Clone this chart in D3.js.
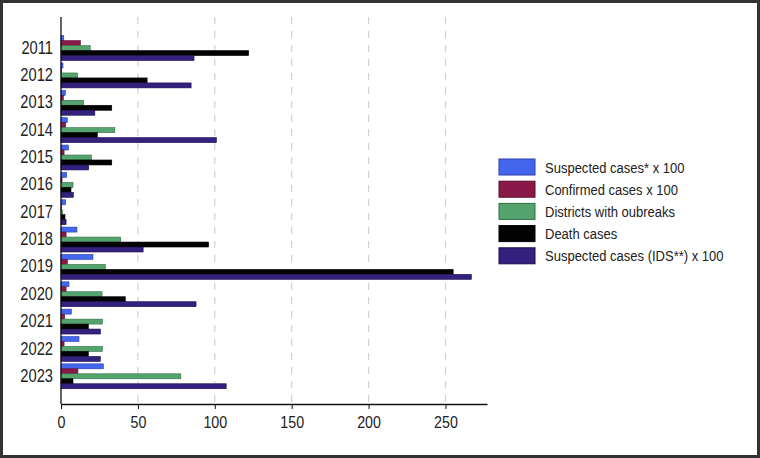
<!DOCTYPE html>
<html>
<head>
<meta charset="utf-8">
<script src="https://cdn.jsdelivr.net/npm/d3@7"></script>
<style>
  html, body { margin: 0; padding: 0; background: #fff; }
  svg { display: block; font-family: "Liberation Sans", Arial, sans-serif; }
</style>
</head>
<body>
<div id="chart"></div>
<script>
const years = ['2011', '2012', '2013', '2014', '2015', '2016', '2017', '2018', '2019', '2020', '2021', '2022', '2023'];
const seriesNames = ['Suspected cases* x 100', 'Confirmed cases x 100', 'Districts with oubreaks', 'Death cases', 'Suspected cases (IDS**) x 100'];
const suspected = [1.8, 1.3, 2.8, 4.1, 4.8, 3.7, 3.0, 10.4, 20.8, 5.2, 6.7, 11.7, 27.5];
const confirmed = [12.6, 0.3, 1.5, 3.0, 2.0, 0.7, 0.2, 3.3, 4.1, 3.3, 2.4, 2.0, 11.0];
const districts = [19, 10.8, 14.7, 35, 19.7, 7.8, 0.9, 38.8, 28.8, 26.7, 26.9, 26.9, 77.9];
const deaths = [122, 56, 33, 23.6, 33, 6.5, 2.6, 96, 255, 41.8, 17.8, 17.8, 7.8];
const suspectedIDS = [86.5, 84.6, 22, 101, 18, 8, 3.3, 53.4, 266.8, 87.8, 25.6, 25.6, 107.4];
const xTicks = [0, 50, 100, 150, 200, 250];

const colors = ['#4466ee', '#8a1848', '#55a46e', '#030303', '#34207e'];
const strokes = ['#2a3fa8', '#5a0c2e', '#2f6e44', '#000000', '#1a0c4a'];

const width = 760, height = 458;
const margin = { top: 17, right: 273, bottom: 54, left: 61 };
const squeeze = 0.84; // text in the reference is set in a narrow face

const svg = d3.select('#chart').append('svg')
    .attr('width', width)
    .attr('height', height);

// outer frame
svg.append('rect')
    .attr('x', 1.5).attr('y', 1.5)
    .attr('width', width - 3).attr('height', height - 3)
    .attr('fill', '#fff')
    .attr('stroke', '#333')
    .attr('stroke-width', 3);

const x = d3.scaleLinear()
    .domain([0, 277])
    .range([margin.left, width - margin.right]);

const y = d3.scaleBand()
    .domain(years)
    .range([margin.top, height - margin.bottom])
    .paddingInner(0.09)
    .paddingOuter(0.62)
    .align(0.55);

const ySub = d3.scaleBand()
    .domain(d3.range(seriesNames.length))
    .range([0, y.bandwidth()]);

const seriesValues = [suspected, confirmed, districts, deaths, suspectedIDS];
const rows = years.map((yr, i) => ({ year: yr, values: seriesValues.map(s => s[i]) }));

// dashed gridlines
svg.append('g')
    .selectAll('line')
    .data(xTicks.filter(d => d > 0))
    .join('line')
    .attr('x1', d => x(d)).attr('x2', d => x(d))
    .attr('y1', margin.top).attr('y2', height - margin.bottom)
    .attr('stroke', '#d0d0d0')
    .attr('stroke-width', 1.2)
    .attr('stroke-dasharray', '7,7');

// bars
svg.append('g')
    .selectAll('g')
    .data(rows)
    .join('g')
    .attr('transform', d => `translate(0,${y(d.year)})`)
    .selectAll('rect')
    .data(d => d.values.map((v, k) => ({ k, v })))
    .join('rect')
    .attr('x', x(0))
    .attr('y', d => ySub(d.k))
    .attr('width', d => x(d.v) - x(0))
    .attr('height', ySub.bandwidth())
    .attr('fill', d => colors[d.k])
    .attr('stroke', d => strokes[d.k])
    .attr('stroke-width', 0.6);

// x axis
const xAxis = svg.append('g')
    .attr('transform', `translate(0,${height - margin.bottom})`)
    .call(d3.axisBottom(x).tickValues(xTicks).tickSize(5).tickSizeOuter(0));
xAxis.select('.domain').attr('stroke', '#111').attr('stroke-width', 1.3);
xAxis.selectAll('.tick line').attr('stroke', '#111');
xAxis.selectAll('.tick text')
    .attr('font-size', 17)
    .attr('font-family', null)
    .attr('fill', '#222')
    .attr('dy', '0.95em')
    .attr('transform', `scale(${squeeze},1)`);

// y axis
const yAxis = svg.append('g')
    .attr('transform', `translate(${margin.left},0)`)
    .call(d3.axisLeft(y).tickSize(0).tickPadding(8));
yAxis.select('.domain').attr('stroke', '#111').attr('stroke-width', 1.3)
    .attr('d', `M0,${margin.top}V${height - margin.bottom}`);
yAxis.selectAll('.tick text')
    .attr('font-size', 17.5)
    .attr('font-family', null)
    .attr('fill', '#222')
    .attr('x', -8 / squeeze)
    .attr('transform', `scale(${squeeze},1)`);

// legend
const legend = svg.append('g')
    .attr('transform', 'translate(499,159)');

const item = legend.selectAll('g')
    .data(seriesNames)
    .join('g')
    .attr('transform', (d, i) => `translate(0,${i * 22.2})`);

item.append('rect')
    .attr('width', 36).attr('height', 16)
    .attr('fill', (d, i) => colors[i])
    .attr('stroke', (d, i) => strokes[i])
    .attr('stroke-width', 1);

item.append('text')
    .attr('transform', `translate(46,8) scale(${squeeze},1)`)
    .attr('dy', '0.36em')
    .attr('font-size', 15.5)
    .attr('fill', '#222')
    .text(d => d);
</script>
</body>
</html>
